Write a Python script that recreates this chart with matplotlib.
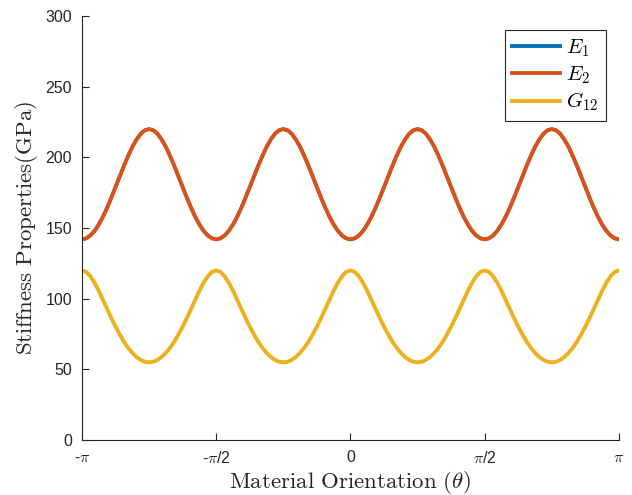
import numpy as np
import matplotlib
matplotlib.use("Agg")
import matplotlib.pyplot as plt

plt.rcParams['mathtext.fontset'] = 'cm'
plt.rcParams['font.family'] = ['Liberation Sans', 'DejaVu Sans']

# orientation from -pi to pi in steps of pi/64
theta = np.linspace(-np.pi, np.pi, 129)

E2 = [142, 142.7, 144.7, 148, 152.5, 158, 164.4, 171.5, 178.9, 186.5, 194, 201, 207.4, 212.6, 216.7, 219.2,
      220, 219.2, 216.7, 212.6, 207.4, 201, 194, 186.5, 178.9, 171.5, 164.4, 158, 152.5, 148, 144.7, 142.7,
      142, 142.7, 144.7, 148, 152.5, 158, 164.4, 171.5, 178.9, 186.5, 194, 201, 207.4, 212.6, 216.7, 219.2,
      220, 219.2, 216.7, 212.6, 207.4, 201, 194, 186.5, 178.9, 171.5, 164.4, 158, 152.5, 148, 144.7, 142.7,
      142, 142.7, 144.7, 148, 152.5, 158, 164.4, 171.5, 178.9, 186.5, 194, 201, 207.4, 212.6, 216.7, 219.2,
      220, 219.2, 216.7, 212.6, 207.4, 201, 194, 186.5, 178.9, 171.5, 164.4, 158, 152.5, 148, 144.7, 142.7,
      142, 142.7, 144.7, 148, 152.5, 158, 164.4, 171.5, 178.9, 186.5, 194, 201, 207.4, 212.6, 216.7, 219.2,
      220, 219.2, 216.7, 212.6, 207.4, 201, 194, 186.5, 178.9, 171.5, 164.4, 158, 152.5, 148, 144.7, 142.7,
      142]
E1 = list(E2)
G12 = [120, 119, 115.9, 111.3, 105.6, 99.2, 92.7, 86.3, 80.3, 74.7, 69.6, 65.3, 61.7, 58.8, 56.7, 55.4,
       55, 55.4, 56.7, 58.8, 61.7, 65.3, 69.6, 74.7, 80.3, 86.3, 92.7, 99.2, 105.6, 111.3, 115.9, 119,
       120, 119, 115.9, 111.3, 105.6, 99.2, 92.7, 86.3, 80.3, 74.7, 69.6, 65.3, 61.7, 58.8, 56.7, 55.4,
       55, 55.4, 56.7, 58.8, 61.7, 65.3, 69.6, 74.7, 80.3, 86.3, 92.7, 99.2, 105.6, 111.3, 115.9, 119,
       120, 119, 115.9, 111.3, 105.6, 99.2, 92.7, 86.3, 80.3, 74.7, 69.6, 65.3, 61.7, 58.8, 56.7, 55.4,
       55, 55.4, 56.7, 58.8, 61.7, 65.3, 69.6, 74.7, 80.3, 86.3, 92.7, 99.2, 105.6, 111.3, 115.9, 119,
       120, 119, 115.9, 111.3, 105.6, 99.2, 92.7, 86.3, 80.3, 74.7, 69.6, 65.3, 61.7, 58.8, 56.7, 55.4,
       55, 55.4, 56.7, 58.8, 61.7, 65.3, 69.6, 74.7, 80.3, 86.3, 92.7, 99.2, 105.6, 111.3, 115.9, 119,
       120]

xticks = [-np.pi, -np.pi/2, 0, np.pi/2, np.pi]
xticklabels = [r'-$\pi$', r'-$\pi$/2', '0', r'$\pi$/2', r'$\pi$']

fig = plt.figure(figsize=(6.32, 4.95), dpi=100)
ax = fig.add_axes([0.1297, 0.111, 0.8496, 0.8566])

ax.plot(theta, E1, color='#0072BD', lw=2.5, solid_joinstyle='round', label=r'$E_1$')
ax.plot(theta, E2, color='#D95319', lw=2.8, solid_joinstyle='round', label=r'$E_2$')
ax.plot(theta, G12, color='#EDB120', lw=2.8, solid_joinstyle='round', label=r'$G_{12}$')

ax.set_xlim(-np.pi, np.pi)
ax.set_ylim(0, 300)
ax.set_xticks(xticks)
ax.set_xticklabels(xticklabels)
ax.set_yticks([0, 50, 100, 150, 200, 250, 300])

for s in ['top', 'right']:
    ax.spines[s].set_visible(False)
for s in ['left', 'bottom']:
    ax.spines[s].set_color('#262626')
    ax.spines[s].set_linewidth(0.8)
ax.tick_params(direction='in', length=5, width=0.8, color='#262626',
               labelcolor='#262626', labelsize=11.5, pad=7)

ax.set_xlabel(r'$\mathrm{Material\ Orientation\ (}\theta\mathrm{)}$', fontsize=16.5, color='#262626', labelpad=2)
ax.set_ylabel(r'$\mathrm{Stiffness\ Properties(GPa)}$', fontsize=16.5, color='#262626', labelpad=4)

leg = ax.legend(loc='upper right', bbox_to_anchor=(0.976, 0.967), borderaxespad=0, fontsize=15,
                handlelength=2.3, fancybox=False, framealpha=1, edgecolor='#262626',
                borderpad=0.35, labelspacing=0.25, handletextpad=0.3)
leg.get_frame().set_linewidth(0.8)
for line in leg.get_lines():
    line.set_linewidth(2.8)

fig.savefig('out.png', dpi=100)
